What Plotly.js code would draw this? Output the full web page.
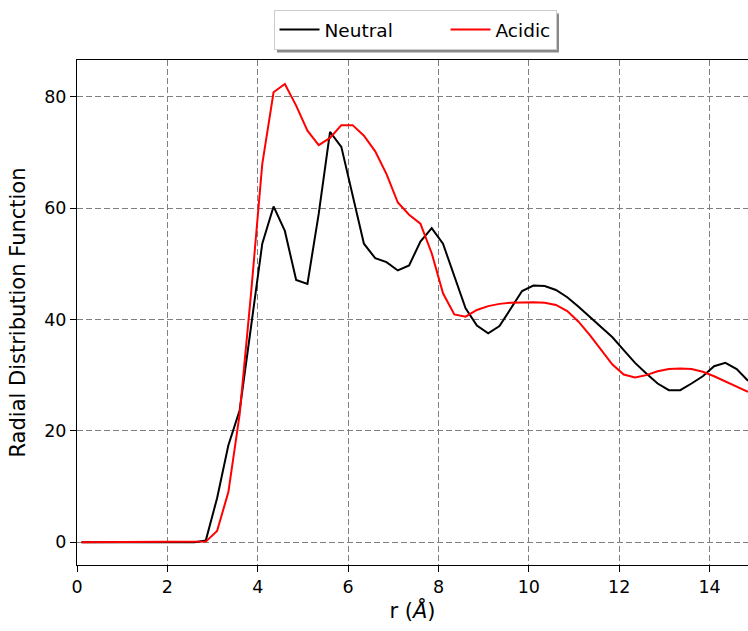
<!DOCTYPE html>
<html>
<head>
<meta charset="utf-8">
<script src="https://cdn.plot.ly/plotly-3.0.1.min.js"></script>
<style>html,body{margin:0;padding:0;background:#fff;}</style>
</head>
<body>
<div id="chart" style="width:748px;height:631px;"></div>
<script>
const r = [0.1,0.35,0.6,0.85,1.1,1.35,1.6,1.85,2.1,2.35,2.6,2.85,3.1,3.35,3.6,3.85,4.1,4.35,4.6,4.85,5.1,5.35,5.6,5.85,6.1,6.35,6.6,6.85,7.1,7.35,7.6,7.85,8.1,8.35,8.6,8.85,9.1,9.35,9.6,9.85,10.1,10.35,10.6,10.85,11.1,11.35,11.6,11.85,12.1,12.35,12.6,12.85,13.1,13.35,13.6,13.85,14.1,14.35,14.6,14.85];
const neutral = [0,0,0,0,0,0,0,0,0,0,0,0.3,7.9,17.4,23.7,38.6,53.6,60.3,55.9,47.1,46.4,59.0,73.7,71.0,62.0,53.6,51.0,50.3,48.8,49.7,54.0,56.4,53.6,47.6,42.0,38.9,37.5,38.8,42.0,45.1,46.1,46.0,45.3,44.0,42.3,40.5,38.7,36.8,34.5,32.2,30.3,28.5,27.3,27.3,28.5,29.8,31.6,32.2,31.1,29.0];
const acidic = [0,0,0,0,0,0,0,0,0,0,0,0.1,2.0,9.0,23.0,44.5,67.9,80.8,82.3,78.4,73.9,71.3,72.6,74.9,74.9,73.0,70.2,66.1,61.0,58.8,57.2,51.9,44.7,40.9,40.5,41.7,42.4,42.8,43.0,43.1,43.1,43.0,42.6,41.5,39.6,37.2,34.6,31.9,30.1,29.6,30.0,30.7,31.1,31.2,31.1,30.6,29.8,28.9,28.0,27.0];
const xTicks = [0,2,4,6,8,10,12,14];
const yTicks = [0,20,40,60,80];

const traces = [
  {x: r, y: neutral, name: 'Neutral', mode: 'lines', line: {color: '#000000', width: 2}, legendwidth: 116},
  {x: r, y: acidic, name: 'Acidic', mode: 'lines', line: {color: '#ff0000', width: 2}}
];

const W = 748, H = 631, L = 77, R = 0, T = 60, B = 66;
const pw = W - L - R, ph = H - T - B;
function px2x(p){ return (p - L) / pw; }
function py2y(p){ return (H - B - p) / ph; }

const axisCommon = {
  showline: true, linecolor: '#000', linewidth: 1, mirror: true,
  ticks: 'outside', ticklen: 6, tickcolor: '#000', tickwidth: 1,
  showgrid: true, gridcolor: '#808080', griddash: '6px,3px', gridwidth: 1,
  zeroline: false, tickfont: {size: 17.5, color: '#000'}
};

const layout = {
  width: W, height: H,
  margin: {l: L, r: R, t: T, b: B},
  paper_bgcolor: '#fff', plot_bgcolor: '#fff',
  font: {family: 'DejaVu Sans', color: '#000'},
  showlegend: true,
  legend: {
    orientation: 'h', x: px2x(415), xanchor: 'center', y: py2y(10), yanchor: 'top',
    bgcolor: '#fff', bordercolor: '#cccccc', borderwidth: 1,
    font: {size: 18.5, color: '#000'}, itemwidth: 40
  },
  xaxis: Object.assign({}, axisCommon, {
    range: [0, 14.85], tickvals: xTicks, ticktext: xTicks.map(String),
    title: {text: 'r (<i>Å</i>)', font: {size: 21}, standoff: 6}
  }),
  yaxis: Object.assign({}, axisCommon, {
    range: [-4.1, 86.6], tickvals: yTicks, ticktext: yTicks.map(String),
    title: {text: 'Radial Distribution Function', font: {size: 21}, standoff: 12}
  }),
  shapes: [
    {type: 'rect', xref: 'paper', yref: 'paper', layer: 'below',
     x0: px2x(276), x1: px2x(560), y0: py2y(14), y1: py2y(46),
     fillcolor: '#8a8a8a', line: {width: 0}}
  ]
};

Plotly.newPlot('chart', traces, layout, {displayModeBar: false, staticPlot: true}).then(function(gd){
  // align the shadow with the legend box actually drawn
  const bg = gd.querySelector('.legend .bg');
  if (bg) {
    const rect = bg.getBoundingClientRect();
    const host = gd.getBoundingClientRect();
    const lx = rect.left - host.left, ly = rect.top - host.top;
    Plotly.relayout(gd, {
      'shapes[0].x0': px2x(lx + 3), 'shapes[0].x1': px2x(lx + rect.width + 3),
      'shapes[0].y0': py2y(ly + rect.height + 3), 'shapes[0].y1': py2y(ly + 3)
    });
  }
});
</script>
</body>
</html>
